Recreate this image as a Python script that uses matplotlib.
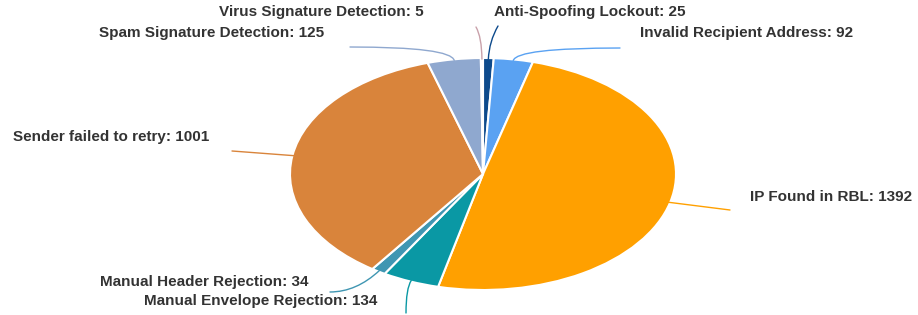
import numpy as np
import matplotlib.pyplot as plt

labels = ["Anti-Spoofing Lockout", "Invalid Recipient Address", "IP Found in RBL",
          "Manual Envelope Rejection", "Manual Header Rejection", "Sender failed to retry",
          "Spam Signature Detection", "Virus Signature Detection"]
counts = [25, 92, 1392, 134, 34, 1001, 125, 5]
colors = ["#0d4a8c", "#5aa2f2", "#ffa000", "#0a98a4", "#3f96b2", "#d9843b", "#8fa8cf", "#c9a1aa"]

W, H = 918, 315
cx, cy = 483, 141          # pie centre, figure pixels from bottom-left
rx, ry = 193, 116          # stretched radius

# label layout: text centre (px, from top), leader end (px, from top), end tangent angle
layout = {
    "Anti-Spoofing Lockout": ((590, 12), (498, 26), 60),
    "Invalid Recipient Address": ((747, 33), (620, 48), 0),
    "IP Found in RBL": ((831, 197), (730, 210), None),
    "Manual Envelope Rejection": ((261, 301), (406, 313), 90),
    "Manual Header Rejection": ((204, 282), (330, 292), 0),
    "Sender failed to retry": ((111, 137), (232, 151), None),
    "Spam Signature Detection": ((212, 33), (350, 47), 0),
    "Virus Signature Detection": ((321, 12), (476, 27), 120),
}

fig = plt.figure(figsize=(W / 100, H / 100), dpi=100)
ax = fig.add_axes([0, 0, 1, 1])
wedges, _ = ax.pie(counts, colors=colors, startangle=90, counterclock=False,
                   wedgeprops=dict(edgecolor="white", linewidth=1.5))
ax.set_aspect("auto")
ax.set_xlim(-cx / rx, (W - cx) / rx)
ax.set_ylim(-cy / ry, (H - cy) / ry)
ax.axis("off")

def to_data(px, py_top):
    return (px - cx) / rx, ((H - py_top) - cy) / ry

for w, lab, n, col in zip(wedges, labels, counts, colors):
    mid = np.deg2rad((w.theta1 + w.theta2) / 2)
    anchor = (0.99 * np.cos(mid), 0.99 * np.sin(mid))
    radial = np.degrees(np.arctan2(ry * np.sin(mid), rx * np.cos(mid)))
    (tx, ty), (ex, ey), angA = layout[lab]
    end = to_data(ex, ey)
    if angA is None:
        cs = "arc3,rad=0"
    else:
        cs = f"angle3,angleA={angA},angleB={radial:.1f}"
    ax.annotate("", xy=anchor, xytext=end,
                arrowprops=dict(arrowstyle="-", color=col, lw=1.0,
                                connectionstyle=cs, shrinkA=0, shrinkB=0))
    ax.text(*to_data(tx, ty), f"{lab}: {n}", ha="center", va="center",
            fontsize=11, fontweight="bold", family="Liberation Sans", color="#333333")

fig.savefig("out.png", dpi=100)
